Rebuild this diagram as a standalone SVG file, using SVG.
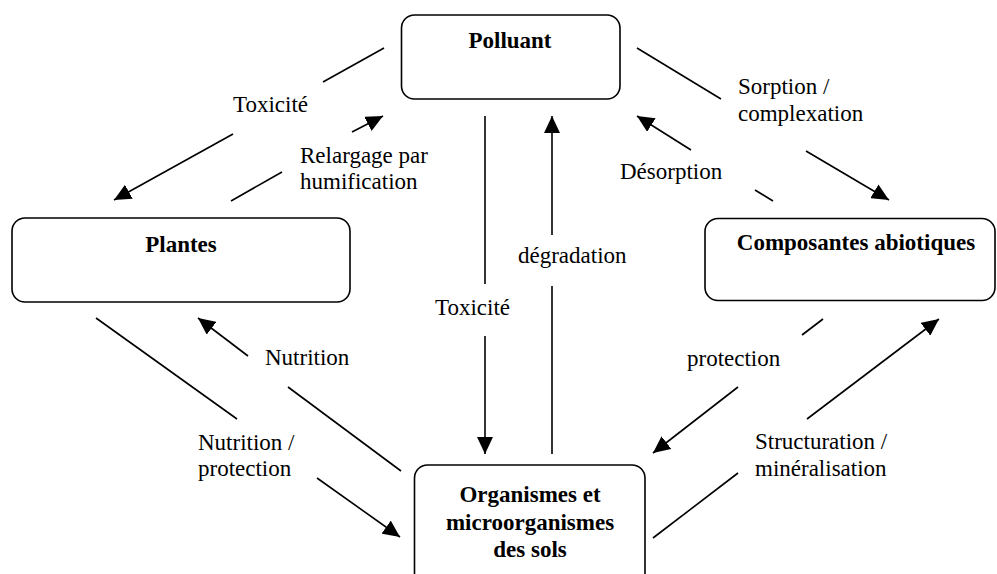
<svg xmlns="http://www.w3.org/2000/svg" width="997" height="574" viewBox="0 0 997 574" font-family="Liberation Serif, Times New Roman, serif">
<style>
.box{fill:#fff;stroke:#000;stroke-width:1.6}
.node{font-size:23px;font-weight:bold;fill:#000;text-anchor:middle}
.lbl{font-size:23px;fill:#000}
.ln{stroke:#000;stroke-width:1.6;fill:none}
.arr{marker-end:url(#ah)}
</style>
<defs>
<marker id="ah" markerUnits="userSpaceOnUse" markerWidth="18" markerHeight="16" refX="17" refY="8" orient="auto">
<path d="M0,0 L17,8 L0,16 z" fill="#000"/>
</marker>
</defs>
<rect width="997" height="574" fill="#fff"/>
<g id="connectors">
<line class="ln" x1="384" y1="48" x2="323" y2="82"/>
<line class="ln arr" x1="233" y1="134" x2="114" y2="200"/>
<line class="ln" x1="231" y1="201" x2="282" y2="172"/>
<line class="ln arr" x1="352" y1="132" x2="383" y2="116"/>
<line class="ln" x1="637" y1="48" x2="721" y2="99"/>
<line class="ln arr" x1="806" y1="151" x2="889" y2="200"/>
<line class="ln" x1="773" y1="201" x2="755" y2="190"/>
<line class="ln arr" x1="691" y1="150" x2="637" y2="116"/>
<line class="ln" x1="485" y1="116" x2="485" y2="284"/>
<line class="ln arr" x1="485" y1="336" x2="485" y2="454"/>
<line class="ln" x1="552" y1="454" x2="552" y2="286"/>
<line class="ln arr" x1="552" y1="235" x2="552" y2="116"/>
<line class="ln" x1="401" y1="471" x2="288" y2="387"/>
<line class="ln arr" x1="248" y1="356" x2="198" y2="318"/>
<line class="ln" x1="96" y1="318" x2="237" y2="419"/>
<line class="ln arr" x1="317" y1="478" x2="400" y2="537"/>
<line class="ln" x1="823" y1="319" x2="802" y2="335"/>
<line class="ln arr" x1="738" y1="387" x2="653" y2="453"/>
<line class="ln" x1="653" y1="538" x2="738" y2="473"/>
<line class="ln arr" x1="807" y1="419" x2="939" y2="319"/>
</g>
<g id="labels">
<text class="lbl" x="233" y="112">Toxicité</text>
<text class="lbl" x="300" y="163">Relargage par</text>
<text class="lbl" x="300" y="189">humification</text>
<text class="lbl" x="738" y="94">Sorption /</text>
<text class="lbl" x="738" y="121">complexation</text>
<text class="lbl" x="620" y="179">Désorption</text>
<text class="lbl" x="518" y="263">dégradation</text>
<text class="lbl" x="435" y="315">Toxicité</text>
<text class="lbl" x="265" y="365">Nutrition</text>
<text class="lbl" x="198" y="450">Nutrition /</text>
<text class="lbl" x="198" y="476">protection</text>
<text class="lbl" x="687" y="366">protection</text>
<text class="lbl" x="755" y="449">Structuration /</text>
<text class="lbl" x="755" y="476">minéralisation</text>
</g>
<g id="polluant">
<rect class="box" x="401.5" y="15" width="218.5" height="84" rx="13"/>
<text class="node" x="510" y="48">Polluant</text>
</g>
<g id="plantes">
<rect class="box" x="12" y="218" width="338" height="84" rx="13"/>
<text class="node" x="181" y="252">Plantes</text>
</g>
<g id="composantes">
<rect class="box" x="705" y="218.5" width="290" height="82" rx="13"/>
<text class="node" x="856" y="250">Composantes abiotiques</text>
</g>
<g id="organismes">
<rect class="box" x="414.5" y="465" width="230.5" height="125" rx="13"/>
<text class="node" x="530" y="502">Organismes et</text>
<text class="node" x="530" y="530">microorganismes</text>
<text class="node" x="530" y="557">des sols</text>
</g>
</svg>
